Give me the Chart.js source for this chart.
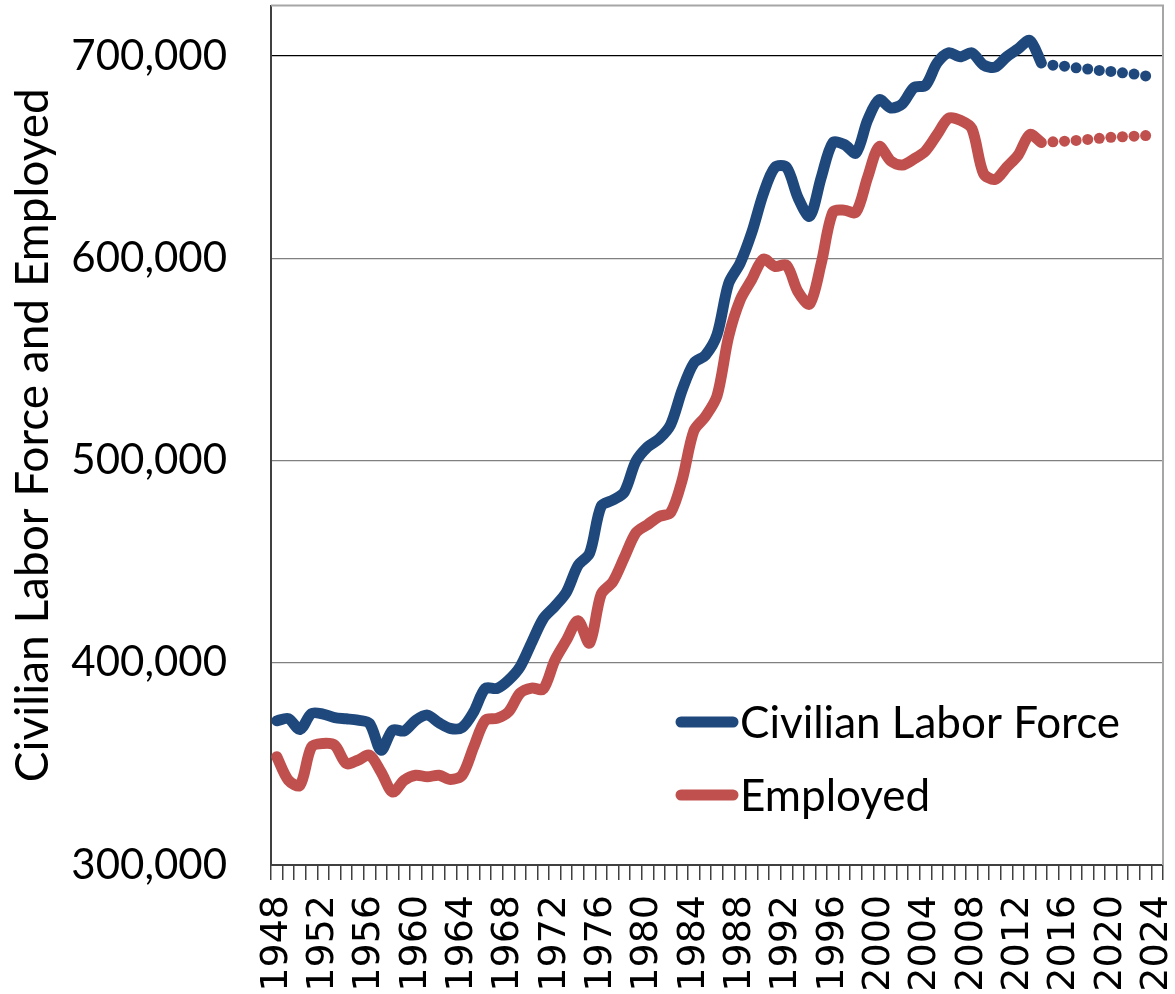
<!DOCTYPE html>
<html lang="en">
<head>
<meta charset="UTF-8">
<title>Civilian Labor Force and Employed</title>
<script src="https://cdn.jsdelivr.net/npm/chart.js"></script>
<style>
    body {
        margin: 0;
        padding: 0;
        background: #ffffff;
    }
    .chart-box {
        width: 1175px;
        height: 994px;
    }
</style>
</head>
<body>
<div class="chart-box">
    <canvas id="laborChart"></canvas>
</div>
<script>
    // years on the category axis (1948 - 2024)
    const years = [];
    for (let y = 1948; y <= 2024; y++) years.push(String(y));

    // actual values 1948 - 2014
    const laborForce = [
        371300, 372400, 367000, 374900, 374600, 372900, 372300, 371600, 370000, 356800,
        366700, 366300, 371600, 374100, 370300, 367500, 368000, 375700, 387300, 387300,
        391400, 398000, 410000, 421800, 427900, 434900, 448100, 454100, 477400, 480400,
        484400, 499600, 506700, 510700, 517800, 535000, 548100, 552100, 562200, 587500,
        597600, 612700, 631900, 645000, 645000, 629900, 620800, 640000, 657200, 656200,
        652100, 668300, 678400, 674300, 676400, 684400, 685500, 696600, 701600, 699600,
        701600, 695600, 694500, 699600, 703600, 707700, 696600
    ];
    const employed = [
        353500, 341900, 339400, 358400, 360100, 359200, 350200, 351800, 354300, 346000,
        336100, 341900, 344400, 343600, 344400, 342300, 344400, 358400, 371600, 372500,
        375700, 385000, 387500, 387000, 401200, 411100, 420800, 409700, 433900, 440000,
        452100, 464300, 468300, 472300, 474300, 490500, 514700, 521800, 531900, 561200,
        579400, 589500, 599600, 596000, 596600, 583400, 577400, 597600, 622800, 623800,
        622800, 640000, 655200, 648100, 646100, 649100, 653100, 661200, 669300, 668300,
        664200, 642000, 639000, 645000, 651100, 661200, 657200
    ];

    // projections 2015 - 2023 (dotted)
    const laborForceProj = [695500, 695000, 694200, 693600, 692900, 692400, 691700, 691100, 690200];
    const employedProj = [657600, 657900, 658300, 658800, 659300, 659800, 660100, 660400, 660700];

    const yTicks = [300000, 400000, 500000, 600000, 700000];

    const blue = '#1F497D';
    const red = '#C0504D';

    function padSeries(arr, start) {
        const out = new Array(years.length).fill(null);
        arr.forEach((v, i) => { out[start + i] = v; });
        return out;
    }
    const projStart = years.indexOf('2015');

    // legend drawn inside the plot, bottom right
    const insideLegend = {
        id: 'insideLegend',
        afterDraw(chart) {
            const ctx = chart.ctx;
            const items = chart.data.datasets.filter(d => !d.isProjection);
            ctx.save();
            ctx.font = '44px Lato';
            ctx.textBaseline = 'middle';
            ctx.fillStyle = '#000';
            items.forEach((d, i) => {
                const y = 722 + i * 73;
                ctx.beginPath();
                ctx.strokeStyle = d.borderColor;
                ctx.lineWidth = 11;
                ctx.lineCap = 'round';
                ctx.moveTo(681, y);
                ctx.lineTo(733, y);
                ctx.stroke();
                ctx.fillText(d.label, 740, y + 2);
            });
            ctx.restore();
        }
    };

    // light frame on top and right of the plot
    const frame = {
        id: 'frame',
        beforeDatasetsDraw(chart) {
            const {ctx, chartArea: a} = chart;
            ctx.save();
            ctx.strokeStyle = '#a6a6a6';
            ctx.lineWidth = 2;
            ctx.beginPath();
            ctx.moveTo(a.left, a.top);
            ctx.lineTo(a.right, a.top);
            ctx.lineTo(a.right, a.bottom);
            ctx.stroke();
            ctx.restore();
        }
    };

    const lineOpts = {
        borderWidth: 11,
        pointRadius: 0,
        tension: 0.3,
        borderCapStyle: 'round',
        borderJoinStyle: 'round',
        spanGaps: false
    };

    const ctx = document.getElementById('laborChart').getContext('2d');
    new Chart(ctx, {
        type: 'line',
        data: {
            labels: years,
            datasets: [
                Object.assign({
                    label: 'Civilian Labor Force',
                    data: padSeries(laborForce, 0),
                    borderColor: blue,
                    backgroundColor: blue
                }, lineOpts),
                Object.assign({
                    label: 'Employed',
                    data: padSeries(employed, 0),
                    borderColor: red,
                    backgroundColor: red
                }, lineOpts),
                {
                    label: 'Civilian Labor Force (projected)',
                    isProjection: true,
                    data: padSeries(laborForceProj, projStart),
                    showLine: false,
                    pointRadius: 5.5,
                    pointBorderWidth: 0,
                    pointBackgroundColor: blue,
                    borderColor: blue
                },
                {
                    label: 'Employed (projected)',
                    isProjection: true,
                    data: padSeries(employedProj, projStart),
                    showLine: false,
                    pointRadius: 5.5,
                    pointBorderWidth: 0,
                    pointBackgroundColor: red,
                    borderColor: red
                }
            ]
        },
        options: {
            responsive: true,
            maintainAspectRatio: false,
            animation: false,
            layout: { padding: { top: 5, right: 12, left: 0, bottom: 0 } },
            plugins: {
                legend: { display: false },
                tooltip: { enabled: false }
            },
            scales: {
                x: {
                    offset: true,
                    grid: {
                        offset: true,
                        drawOnChartArea: false,
                        drawTicks: true,
                        tickLength: 15,
                        color: '#404040',
                        lineWidth: 1.5
                    },
                    border: { color: '#404040', width: 2 },
                    ticks: {
                        autoSkip: false,
                        minRotation: 90,
                        maxRotation: 90,
                        padding: 15,
                        color: '#000',
                        font: { family: 'DejaVu Sans', size: 38 },
                        callback: function (value, index) {
                            const yr = parseInt(years[index], 10);
                            return (yr - 1948) % 4 === 0 ? years[index] : '';
                        }
                    },
                    afterFit: function (scale) {
                        scale.height = 129;
                        scale.paddingLeft = 0;
                        scale.paddingRight = 0;
                    }
                },
                y: {
                    min: 300000,
                    max: 725000,
                    afterBuildTicks: function (scale) {
                        scale.ticks = yTicks.map(v => ({ value: v }));
                    },
                    grid: {
                        // top line darker, like the original
                        color: c => (c.tick && c.tick.value === 700000 ? '#000000' : '#808080'),
                        lineWidth: 1.2,
                        drawTicks: false
                    },
                    border: { color: '#404040', width: 2 },
                    ticks: {
                        padding: 44,
                        color: '#000',
                        font: { family: 'Lato', size: 42 },
                        callback: function (v) {
                            return Number(v).toLocaleString('en-US');
                        }
                    },
                    title: {
                        display: true,
                        text: 'Civilian Labor Force and Employed',
                        color: '#000',
                        font: { family: 'Lato', size: 46 },
                        padding: { top: 6, bottom: 0 }
                    },
                    afterFit: function (scale) {
                        scale.width = 271;
                        scale.paddingTop = 0;
                        scale.paddingBottom = 0;
                    }
                }
            }
        },
        plugins: [frame, insideLegend]
    });
</script>
</body>
</html>
